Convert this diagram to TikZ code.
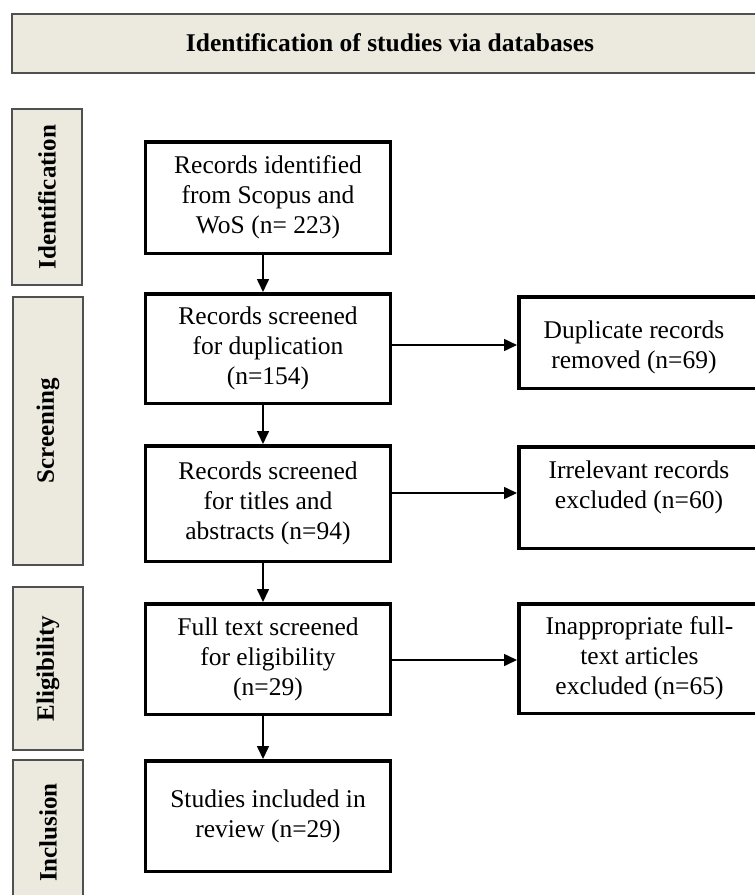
\documentclass[tikz,border=0pt]{standalone}
\usepackage{fontspec}
\setmainfont{Liberation Serif}
\usetikzlibrary{arrows.meta}
\definecolor{beige}{HTML}{ECEADF}
\definecolor{frame}{HTML}{505050}
\begin{document}
\begin{tikzpicture}[x=1pt,y=-1pt,
  txt/.style={align=center, inner sep=0pt, font=\fontsize{25.5}{30}\selectfont},
  box/.style={txt, draw=black, line width=3.5pt, fill=white},
  mainbox/.style={box, minimum width=245pt},
  sidebox/.style={box, minimum width=241.5pt},
  phase/.style={draw=frame, line width=1.3pt, fill=beige, inner sep=0pt, minimum width=70pt,
    font=\bfseries\fontsize{25}{28}\selectfont},
  arr/.style={line width=1.6pt, -{Triangle[length=13pt,width=12pt]}}]
\useasboundingbox (0,0) rectangle (755,895);
\fill[white] (0,0) rectangle (755,895);

% header
\node[draw=frame, line width=2pt, fill=beige, minimum width=756pt, minimum height=59pt,
  inner sep=0pt, font=\bfseries\fontsize{25.5}{28}\selectfont] (hdr) at (390,43)
  {Identification of studies via databases};

% phase labels
\node[phase, minimum height=176pt] (pid) at (47,197) {\rotatebox{90}{Identification}};
\node[phase, minimum height=268pt] (psc) at (48,431) {\rotatebox{90}{Screening}};
\node[phase, minimum height=163pt] (pel) at (48,668.5) {\rotatebox{90}{Eligibility}};
\node[phase, minimum height=145pt] (pin) at (48,832.5) {\rotatebox{90}{Inclusion}};

% main column
\node[mainbox, minimum height=111.5pt] (b1) at (268,197.5)
  {Records identified\\from Scopus and\\WoS (n= 223)};
\node[mainbox, minimum height=109.5pt] (b2) at (268,348.5)
  {Records screened\\for duplication\\(n=154)};
\node[mainbox, minimum height=115.5pt] (b3) at (268,503.5)
  {Records screened\\for titles and\\abstracts (n=94)};
\node[mainbox, minimum height=110.5pt] (b4) at (268,659)
  {Full text screened\\for eligibility\\(n=29)};
\node[mainbox, minimum height=110.5pt] (b5) at (268,816)
  {Studies included in\\review (n=29)};

% side column
\node[sidebox, minimum height=91.5pt] (r1) at (639.5,342.5) {};
\node[txt] (r1t) at (634,347) {Duplicate records\\removed (n=69)};
\node[sidebox, minimum height=101.5pt] (r2) at (639.5,497.5) {};
\node[txt] (r2t) at (639,487) {Irrelevant records\\excluded (n=60)};
\node[sidebox, minimum height=109.5pt] (r3) at (639.5,658.5)
  {Inappropriate full-\\text articles\\excluded (n=65)};

% connectors
\draw[arr] ([xshift=-5pt]b1.south) -- ([xshift=-5pt]b2.north);
\draw[arr] ([xshift=-5pt]b2.south) -- ([xshift=-5pt]b3.north);
\draw[arr] ([xshift=-5pt]b3.south) -- ([xshift=-5pt]b4.north);
\draw[arr] ([xshift=-5pt]b4.south) -- ([xshift=-5pt]b5.north);

\coordinate (h1) at (0,345);
\coordinate (h2) at (0,493);
\coordinate (h3) at (0,660);
\draw[arr] (b2.east |- h1) -- (r1.west |- h1);
\draw[arr] (b3.east |- h2) -- (r2.west |- h2);
\draw[arr] (b4.east |- h3) -- (r3.west |- h3);
\end{tikzpicture}
\end{document}
